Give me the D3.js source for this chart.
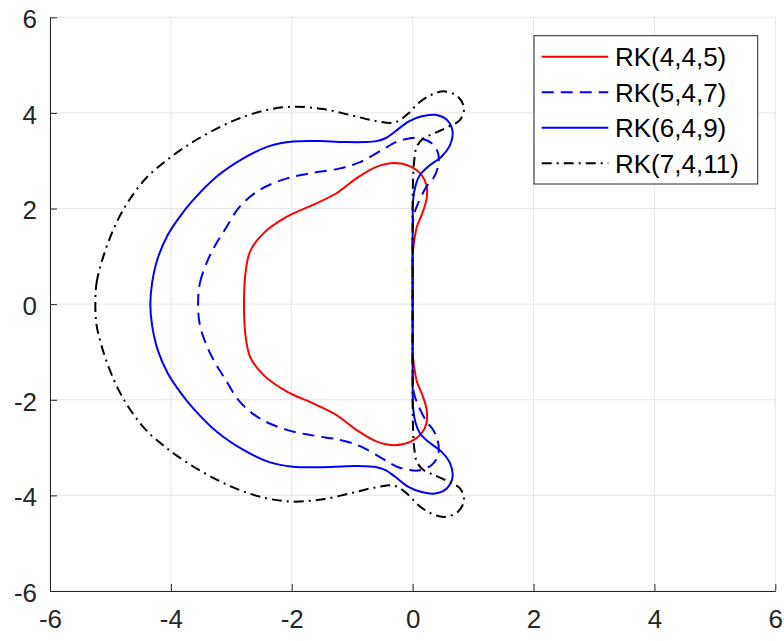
<!DOCTYPE html>
<html>
<head>
<meta charset="utf-8">
<script src="https://cdn.jsdelivr.net/npm/d3@7"></script>
<style>
  html, body { margin: 0; padding: 0; background: #fff; }
  svg { display: block; font-family: "Liberation Sans", Arial, Helvetica, sans-serif; }
</style>
</head>
<body>
<svg id="chart" width="784" height="641"></svg>
<script>
// Stability region boundaries in the complex plane (Re, Im)
const rk445 = [
  [-2.79,0],[-2.77,0.6],[-2.69,1.1],[-2.47,1.48],[-2.08,1.83],[-1.64,2.08],[-1.26,2.32],
  [-0.93,2.63],[-0.6,2.87],[-0.3,2.95],[-0.04,2.88],[0.15,2.7],[0.23,2.48],[0.23,2.2],
  [0.16,1.9],[0.07,1.62],[0.02,1.27],[0,1.0],[0,0.5],[0,0],
  [0,-0.5],[0,-1.0],[0.02,-1.27],[0.07,-1.62],[0.16,-1.9],[0.23,-2.2],[0.23,-2.48],
  [0.15,-2.7],[-0.04,-2.88],[-0.3,-2.95],[-0.6,-2.87],[-0.93,-2.63],[-1.26,-2.32],
  [-1.64,-2.08],[-2.08,-1.83],[-2.47,-1.48],[-2.69,-1.1],[-2.77,-0.6]
];

const rk547 = [
  [-3.55,0],[-3.52,0.44],[-3.41,0.86],[-3.28,1.2],[-3.11,1.55],[-2.86,2.04],[-2.53,2.39],
  [-2.08,2.63],[-1.64,2.75],[-1.2,2.84],[-0.87,2.97],[-0.5,3.23],[-0.26,3.4],[-0.04,3.47],
  [0.09,3.48],[0.31,3.37],[0.42,3.16],[0.42,2.88],[0.34,2.63],[0.23,2.46],[0.09,2.11],
  [0.02,1.85],[0,1.4],[0,0.7],[0,0],
  [0,-0.7],[0,-1.4],[0.02,-1.85],[0.09,-2.11],[0.23,-2.46],[0.34,-2.63],[0.42,-2.88],
  [0.42,-3.16],[0.31,-3.37],[0.09,-3.48],[-0.04,-3.47],[-0.26,-3.4],[-0.5,-3.23],
  [-0.87,-2.97],[-1.2,-2.84],[-1.64,-2.75],[-2.08,-2.63],[-2.53,-2.39],[-2.86,-2.04],
  [-3.11,-1.55],[-3.28,-1.2],[-3.41,-0.86],[-3.52,-0.44]
];

const rk649 = [
  [-4.34,0],[-4.31,0.45],[-4.22,0.95],[-4.05,1.45],[-3.84,1.85],[-3.63,2.18],[-3.24,2.67],
  [-2.8,3.05],[-2.36,3.31],[-1.98,3.4],[-1.53,3.41],[-1.09,3.39],[-0.8,3.39],[-0.6,3.41],
  [-0.45,3.47],[-0.3,3.6],[-0.07,3.82],[0.15,3.93],[0.37,3.96],[0.56,3.86],[0.66,3.62],[0.62,3.33],
  [0.48,3.09],[0.26,2.88],[0.12,2.7],[0.05,2.49],[0.01,2.2],[0,1.5],[0,0.7],[0,0],
  [0,-0.7],[0,-1.5],[0.01,-2.2],[0.05,-2.49],[0.12,-2.7],[0.26,-2.88],[0.48,-3.09],
  [0.62,-3.33],[0.66,-3.62],[0.56,-3.86],[0.37,-3.96],[0.15,-3.93],[-0.07,-3.82],
  [-0.3,-3.6],[-0.45,-3.47],[-0.6,-3.41],[-0.8,-3.39],[-1.09,-3.39],[-1.53,-3.41],[-1.98,-3.4],
  [-2.36,-3.31],[-2.8,-3.05],[-3.24,-2.67],[-3.63,-2.18],[-3.84,-1.85],[-4.05,-1.45],
  [-4.22,-0.95],[-4.31,-0.45]
];

const rk7411 = [
  [-5.25,0],[-5.23,0.44],[-5.15,0.86],[-5.02,1.35],[-4.85,1.83],[-4.65,2.25],[-4.4,2.65],
  [-4.1,2.98],[-3.75,3.3],[-3.35,3.6],[-2.9,3.87],[-2.42,4.06],[-1.98,4.13],[-1.48,4.08],[-0.98,3.94],
  [-0.6,3.83],[-0.3,3.8],[-0.07,3.99],[0.09,4.2],[0.31,4.38],[0.53,4.45],[0.75,4.34],
  [0.85,4.1],[0.78,3.85],[0.59,3.71],[0.37,3.58],[0.18,3.47],[0.07,3.3],[0.03,3.05],
  [0.01,2.7],[0,2.2],[0,1.5],[0,0.7],[0,0],
  [0,-0.7],[0,-1.5],[0,-2.2],[0.01,-2.7],[0.03,-3.05],[0.07,-3.3],[0.18,-3.47],[0.37,-3.58],
  [0.59,-3.71],[0.78,-3.85],[0.85,-4.1],[0.75,-4.34],[0.53,-4.45],[0.31,-4.38],[0.09,-4.2],
  [-0.07,-3.99],[-0.3,-3.8],[-0.6,-3.83],[-0.98,-3.94],[-1.48,-4.08],[-1.98,-4.13],
  [-2.42,-4.06],[-2.9,-3.87],[-3.35,-3.6],[-3.75,-3.3],[-4.1,-2.98],[-4.4,-2.65],[-4.65,-2.25],
  [-4.85,-1.83],[-5.02,-1.35],[-5.15,-0.86],[-5.23,-0.44]
];

const seriesLabels = ["RK(4,4,5)", "RK(5,4,7)", "RK(6,4,9)", "RK(7,4,11)"];
const seriesData = [rk445, rk547, rk649, rk7411];
const seriesColors = ["#ff0000", "#0000ff", "#0000ff", "#000000"];
const seriesDash = [null, "12,7", null, "10,5,2,5"];

const xTicks = [-6, -4, -2, 0, 2, 4, 6];
const yTicks = [-6, -4, -2, 0, 2, 4, 6];

const svg = d3.select("#chart");
const plotLeft = 50, plotRight = 775.3, plotTop = 17.3, plotBottom = 591;

const x = d3.scaleLinear().domain([-6, 6]).range([plotLeft, plotRight]);
const y = d3.scaleLinear().domain([-6, 6]).range([plotBottom, plotTop]);

// grid
const grid = svg.append("g").attr("stroke", "#e6e6e6").attr("stroke-width", 1);
grid.selectAll(".gx").data(xTicks).join("line")
  .attr("x1", d => x(d)).attr("x2", d => x(d))
  .attr("y1", plotTop).attr("y2", plotBottom);
grid.selectAll(".gy").data(yTicks).join("line")
  .attr("y1", d => y(d)).attr("y2", d => y(d))
  .attr("x1", plotLeft).attr("x2", plotRight);

// axes
const axisColor = "#262626";
const gx = svg.append("g").attr("transform", `translate(0,${plotBottom})`)
  .call(d3.axisBottom(x).tickValues(xTicks).tickSizeInner(-7).tickSizeOuter(0).tickPadding(19)
    .tickFormat(d3.format("d")));
const gy = svg.append("g").attr("transform", `translate(${plotLeft},0)`)
  .call(d3.axisLeft(y).tickValues(yTicks).tickSizeInner(-7).tickSizeOuter(0).tickPadding(13)
    .tickFormat(d3.format("d")));
[gx, gy].forEach(g => {
  g.select(".domain").attr("stroke", axisColor).attr("stroke-width", 1);
  g.selectAll(".tick line").attr("stroke", axisColor).attr("stroke-width", 1);
  g.selectAll(".tick text").attr("fill", axisColor).attr("font-size", 26)
    .attr("font-family", "Liberation Sans, Arial, sans-serif")
    .text(d => d < 0 ? "-" + Math.abs(d) : String(d));
});
gy.selectAll(".tick text").attr("dy", "0.4em");

// curves
const line = d3.line().x(d => x(d[0])).y(d => y(d[1])).curve(d3.curveCatmullRomClosed.alpha(0.5));
seriesData.forEach((data, i) => {
  svg.append("path")
    .attr("d", line(data))
    .attr("fill", "none")
    .attr("stroke", seriesColors[i])
    .attr("stroke-width", 2)
    .attr("stroke-dasharray", seriesDash[i]);
});

// legend
const lg = svg.append("g");
lg.append("rect").attr("x", 534).attr("y", 35.7).attr("width", 223.7).attr("height", 148.3)
  .attr("fill", "#fff").attr("stroke", axisColor).attr("stroke-width", 1);
const rowY = d3.scalePoint().domain(seriesLabels).range([56.7, 163.3]);
seriesLabels.forEach((lab, i) => {
  const cy = rowY(lab);
  lg.append("line").attr("x1", 541.7).attr("x2", 608.3).attr("y1", cy).attr("y2", cy)
    .attr("stroke", seriesColors[i]).attr("stroke-width", 2)
    .attr("stroke-dasharray", seriesDash[i]);
  lg.append("text").attr("x", 615).attr("y", cy).attr("dy", "0.36em")
    .attr("font-size", 26).attr("fill", "#000").text(lab);
});
</script>
</body>
</html>
